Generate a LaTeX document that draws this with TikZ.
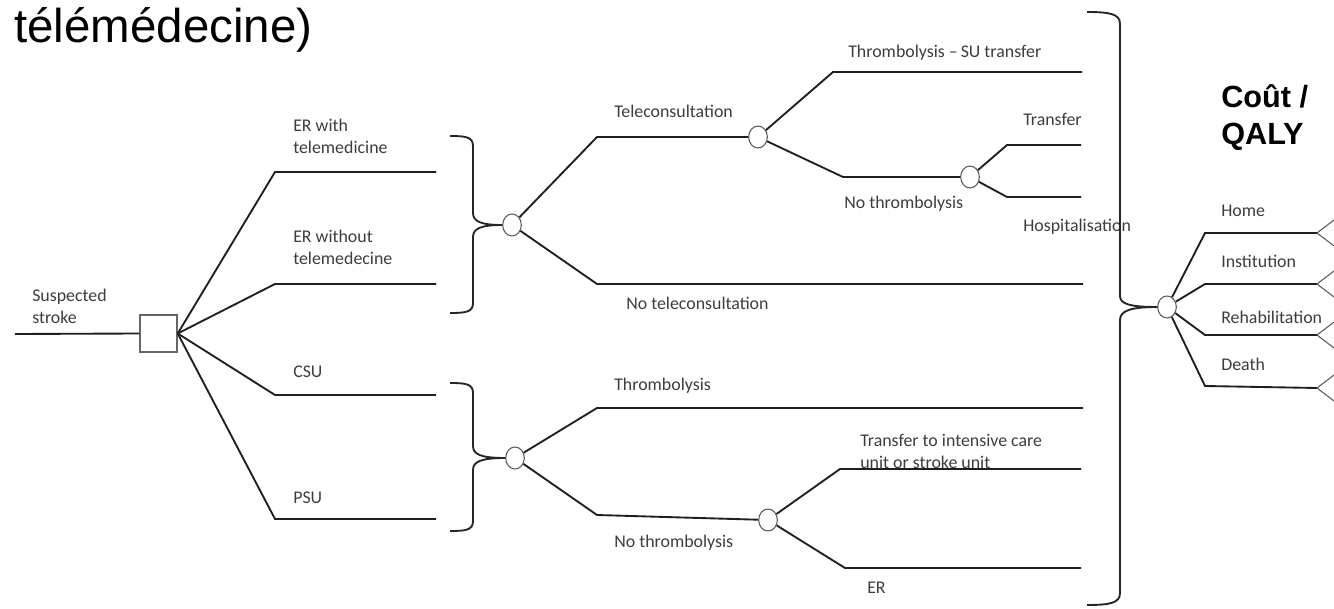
\documentclass[tikz,border=0pt]{standalone}
\usepackage{fontspec}
\setmainfont{Carlito}
\newfontfamily\headfont{Liberation Sans}
\usetikzlibrary{shapes.geometric}

\begin{document}
\begin{tikzpicture}[x=0.75pt,y=-0.75pt,
  every node/.style={font=\fontsize{13.4}{16.5}\selectfont},
  lbl/.style={anchor=west,inner sep=0pt,text=black!76,align=left},
  branch/.style={line width=1.4pt,black!88},
  brace/.style={line width=1.4pt,black!85},
  decision/.style={draw=black!60,line width=1.1pt,fill=white,minimum size=27.75pt,inner sep=0pt},
  chance/.style={ellipse,draw=black!65,line width=0.8pt,fill=white,minimum width=14pt,minimum height=16.5pt,inner sep=0pt}]
  \path[use as bounding box] (0,0) rectangle (1334,609);
  % Title fragment (its first line lies above the picture).
  \node[anchor=base west,inner sep=0pt,font=\headfont\fontsize{35.6}{40}\selectfont] (title) at (14,43) {télémédecine)};

  % Decision and chance nodes.
  \node[decision] (dec) at (158.5,333.5) {};
  \node[chance] (c1) at (512,225) {};
  \node[chance] (c2) at (758,137) {};
  \node[chance] (c3) at (970,177) {};
  \node[chance] (c4) at (515,458) {};
  \node[chance] (c5) at (768,520) {};
  \node[chance] (c6) at (1167,307) {};

  % Left part: strategy branches.
  \coordinate (root) at (15,334);
  \draw[branch] (root) -- (dec.west);
  \draw[branch] (dec.east) -- (275,172) coordinate (b1) -- (436,172) coordinate (e1);
  \draw[branch] (dec.east) -- (275,284) coordinate (b2) -- (436,284) coordinate (e2);
  \draw[branch] (dec.east) -- (275,395) coordinate (b3) -- (436,395) coordinate (e3);
  \draw[branch] (dec.east) -- (275,519) coordinate (b4) -- (436,519) coordinate (e4);
  \node[lbl] (lroot) at (32,306) {Suspected\\stroke};
  \node[lbl] (lerw) at (293,136) {ER with\\telemedicine};
  \node[lbl] (lerwo) at (293,247) {ER without\\telemedecine};
  \node[lbl] (lcsu) at (293,372) {CSU};
  \node[lbl] (lpsu) at (293,498) {PSU};

  % Braces gathering the ER and the stroke unit arms.
  \draw[brace] (450,136) .. controls (466,136) and (473,137) .. (473,146) -- (473,213)
    .. controls (473,221) and (480,225) .. (c1.west);
  \draw[brace] (c1.west) .. controls (480,225) and (473,229) .. (473,237) -- (473,303)
    .. controls (473,312) and (466,313) .. (450,313);
  \draw[brace] (450,383) .. controls (466,383) and (473,384) .. (473,393) -- (473,446)
    .. controls (473,454) and (480,458) .. (c4.west);
  \draw[brace] (c4.west) .. controls (480,458) and (473,462) .. (473,470) -- (473,521)
    .. controls (473,530) and (466,531) .. (450,531);

  % Upper subtree: teleconsultation.
  \draw[branch] (c1) -- (597,137) coordinate (t1) -- (c2);
  \draw[branch] (c1) -- (597,284) coordinate (t2) -- (1083,284) coordinate (t2e);
  \draw[branch] (c2) -- (833,72) coordinate (t3) -- (1082,72) coordinate (t3e);
  \draw[branch] (c2) -- (843,177) coordinate (t4) -- (c3);
  \draw[branch] (c3) -- (1007,145) coordinate (t5) -- (1081,145) coordinate (t5e);
  \draw[branch] (c3) -- (1007,197) coordinate (t6) -- (1081,197) coordinate (t6e);
  \node[lbl] (ltele) at (614,111) {Teleconsultation};
  \node[lbl] (lnotele) at (626,303) {No teleconsultation};
  \node[lbl] (lthrsu) at (848,53) {Thrombolysis \textendash\,SU transfer};
  \node[lbl] (lnothr) at (844,204) {No thrombolysis};
  \node[lbl] (ltrans) at (1023,119) {Transfer};
  \node[lbl] (lhosp) at (1023,227) {Hospitalisation};

  % Lower subtree: stroke units.
  \draw[branch] (c4) -- (597,408) coordinate (s1) -- (1083,408) coordinate (s1e);
  \draw[branch] (c4) -- (597,515) coordinate (s2) -- (c5);
  \draw[branch] (c5) -- (840,469) coordinate (s3) -- (1081,469) coordinate (s3e);
  \draw[branch] (c5) -- (845,568) coordinate (s4) -- (1081,568) coordinate (s4e);
  \node[lbl] (lthr) at (614,386) {Thrombolysis};
  \node[lbl] (lnothrb) at (614,543) {No thrombolysis};
  \node[lbl] (licu) at (860,451) {Transfer to intensive care\\unit or stroke unit};
  \node[lbl] (ler) at (867,588) {ER};

  % Right part: outcomes.
  \draw[brace] (1087,12) .. controls (1110,12) and (1120,14) .. (1120,24) -- (1120,296)
    .. controls (1120,304) and (1130,307) .. (c6.west);
  \draw[brace] (c6.west) .. controls (1130,307) and (1120,311) .. (1120,320) -- (1120,593)
    .. controls (1120,603) and (1110,605) .. (1087,605);
  \draw[branch] (c6) -- (1205,233) coordinate (o1) -- (1317,233) coordinate (o1e);
  \draw[branch] (c6) -- (1205,284) coordinate (o2) -- (1317,284) coordinate (o2e);
  \draw[branch] (c6) -- (1205,335) coordinate (o3) -- (1317,335) coordinate (o3e);
  \draw[branch] (c6) -- (1205,386) coordinate (o4) -- (1317,388) coordinate (o4e);
  \foreach \o in {o1e,o2e,o3e,o4e}
    \draw[line width=0.8pt,black!65] (\o) -- ++(17,-13) (\o) -- ++(17,13);
  \node[lbl] (lhome) at (1221,211) {Home};
  \node[lbl] (linst) at (1221,261) {Institution};
  \node[lbl] (lrehab) at (1221,317) {Rehabilitation};
  \node[lbl] (ldeath) at (1221,364) {Death};
  \node[lbl,text=black,font=\headfont\bfseries\fontsize{23}{27.75}\selectfont] (lcost) at (1221,118) {Coût /\\QALY};
\end{tikzpicture}
\end{document}
